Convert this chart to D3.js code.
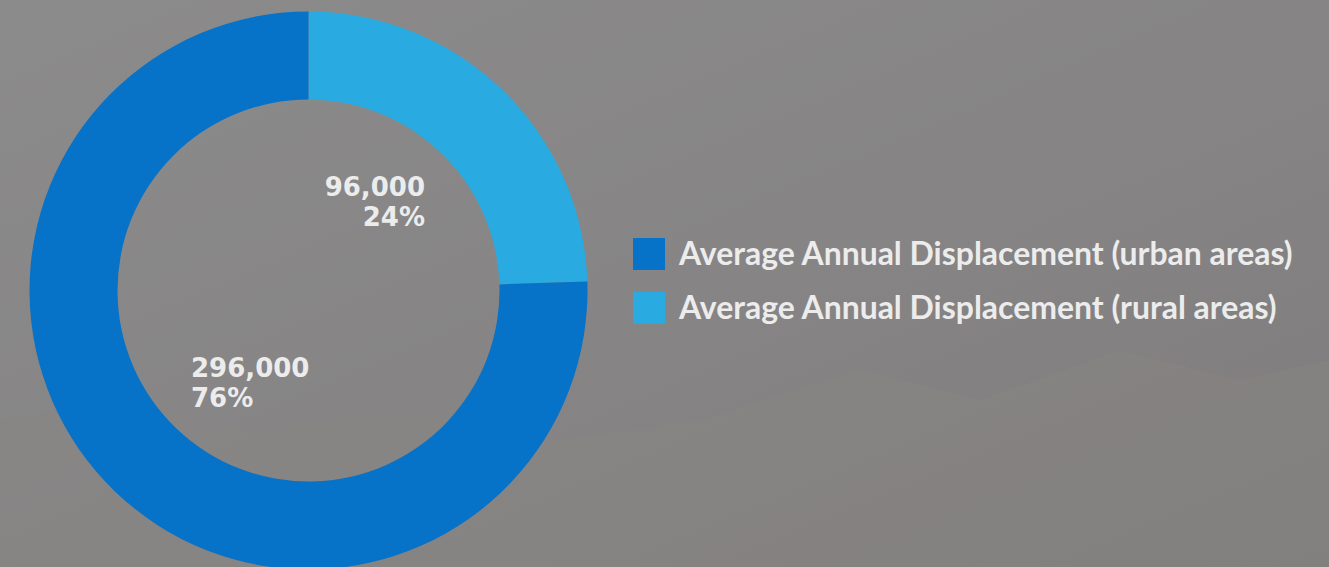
<!DOCTYPE html>
<html>
<head>
<meta charset="utf-8">
<script src="https://cdn.jsdelivr.net/npm/d3@7"></script>
<style>
  html, body { margin: 0; padding: 0; background: #878585; overflow: hidden; }
  svg { display: block; }
</style>
</head>
<body>
<svg width="1329" height="567"></svg>
<script>
// data
var categories = ["Average Annual Displacement (urban areas)", "Average Annual Displacement (rural areas)"];
var values = [296000, 96000];
var percents = ["76%", "24%"];
var colors = ["#0672c8", "#29abe2"];

var svg = d3.select("svg");
var W = 1329, H = 567;

// background
var defs = svg.append("defs");
var bg = defs.append("linearGradient").attr("id", "bg")
  .attr("x1", 0).attr("y1", 0).attr("x2", 1).attr("y2", 1);
bg.append("stop").attr("offset", "0%").attr("stop-color", "#8c8b8b");
bg.append("stop").attr("offset", "60%").attr("stop-color", "#858383");
bg.append("stop").attr("offset", "100%").attr("stop-color", "#7d7b7b");
svg.append("rect").attr("width", W).attr("height", H).attr("fill", "url(#bg)");

// faint hills at the bottom
svg.append("path")
  .attr("d", "M0,420 L120,400 L260,430 L420,410 L560,440 L700,420 L860,370 L980,400 L1120,350 L1240,380 L1329,360 L1329,567 L0,567 Z")
  .attr("fill", "#8a8686").attr("opacity", 0.45);

var cx = 308.5, cy = 290.5, rOut = 279, rIn = 191;

// start at the top, rural first clockwise, urban after
var order = [1, 0];
var pie = d3.pie().sort(null).value(function(i){ return values[i]; });
var arcs = pie(order);
var arc = d3.arc().innerRadius(rIn).outerRadius(rOut);

var g = svg.append("g").attr("transform", "translate(" + cx + "," + cy + ")");
g.selectAll("path").data(arcs).enter().append("path")
  .attr("d", arc)
  .attr("fill", function(d){ return colors[d.data]; });

var fmt = d3.format(",");
var font = "Lato, 'Open Sans', sans-serif";
var txtCol = "#ececec";

// labels (wide face, like the original)
var lab = svg.append("g").attr("font-family", "'DejaVu Sans', sans-serif").attr("font-weight", 700)
  .attr("font-size", 24).attr("fill", txtCol);
var t96 = lab.append("text").attr("x", 425).attr("y", 196).attr("text-anchor", "end").text(fmt(values[1]));
lab.append("text").attr("x", 425).attr("y", 226).attr("text-anchor", "end").text(percents[1]);
lab.append("text").attr("x", 191).attr("y", 377).text(fmt(values[0]));
lab.append("text").attr("x", 191).attr("y", 407).text(percents[0]);
var lfs = Math.min(26, 24 * 102 / t96.node().getComputedTextLength());
lab.attr("font-size", lfs);

// legend
var leg = svg.append("g").attr("transform", "translate(633,238)");
var item = leg.selectAll("g").data(categories).enter().append("g")
  .attr("transform", function(d, i){ return "translate(0," + (i * 54) + ")"; });
item.append("rect").attr("width", 32).attr("height", 32)
  .attr("fill", function(d, i){ return colors[i]; });
var lt = item.append("text").attr("x", 46).attr("y", 27)
  .attr("font-family", font).attr("font-weight", 700)
  .attr("font-size", 26).attr("fill", txtCol)
  .text(function(d){ return d; });

// fit first legend line to ~614px width
var w0 = lt.node().getComputedTextLength();
var fs = 26 * 614 / w0;
lt.attr("font-size", fs);
</script>
</body>
</html>
